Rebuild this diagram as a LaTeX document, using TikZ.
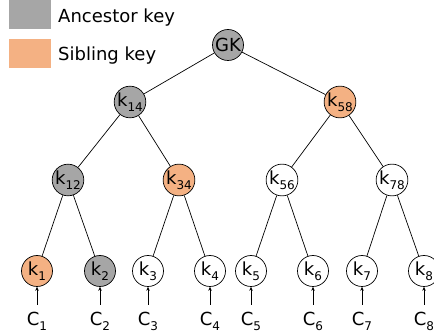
\documentclass[tikz,border=0pt]{standalone}
\usepackage{fontspec}
\setmainfont{DejaVu Sans}
\usetikzlibrary{arrows.meta}
\definecolor{ancgray}{HTML}{A6A6A6}
\definecolor{sibor}{HTML}{F4B183}
\newcommand{\ksub}[2]{#1\raisebox{-0.27em}{\fontsize{12}{12}\selectfont #2}}
\tikzset{
  key/.style={circle, draw, line width=0.7pt, minimum size=31pt, inner sep=0pt, font=\fontsize{18}{20}\selectfont},
  anc/.style={key, fill=ancgray},
  sib/.style={key, fill=sibor},
  plainkey/.style={key, fill=white},
  edge/.style={line width=0.7pt},
  lbl/.style={font=\fontsize{18}{20}\selectfont, inner sep=0pt},
  inp/.style={line width=0.6pt, -{Stealth[length=4pt,width=3.5pt]}},
  legbox/.style={draw=none, inner sep=0pt, minimum width=42pt, minimum height=29pt, anchor=north west}
}
\begin{document}
\begin{tikzpicture}[x=1pt, y=-1pt]
\useasboundingbox (0,0) rectangle (434,336);
\clip (0,0) rectangle (434,336);
% legend
\node[legbox, fill=ancgray] (la) at (9,0) {};
\node[legbox, fill=sibor] (ls) at (9,39) {};
\node[lbl, anchor=base west] (lta) at (58,23) {Ancestor key};
\node[lbl, anchor=base west] (lts) at (58,61) {Sibling key};
% tree
\node[anc] (gk) at (228,45) {GK};
\node[anc] (k14) at (130,102) {\ksub{k}{14}};
\node[sib] (k58) at (340,102) {\ksub{k}{58}};
\node[anc] (k12) at (68,180) {\ksub{k}{12}};
\node[sib] (k34) at (179,180) {\ksub{k}{34}};
\node[plainkey] (k56) at (282,180) {\ksub{k}{56}};
\node[plainkey] (k78) at (392,180) {\ksub{k}{78}};
\node[sib] (k1) at (37,271) {\ksub{k}{1}};
\node[anc] (k2) at (100,271) {\ksub{k}{2}};
\node[plainkey] (k3) at (148,271) {\ksub{k}{3}};
\node[plainkey] (k4) at (210,271) {\ksub{k}{4}};
\node[plainkey] (k5) at (251,271) {\ksub{k}{5}};
\node[plainkey] (k6) at (313,271) {\ksub{k}{6}};
\node[plainkey] (k7) at (362,271) {\ksub{k}{7}};
\node[plainkey] (k8) at (424,271) {\ksub{k}{8}};
\draw[edge] (gk) -- (k14);
\draw[edge] (gk) -- (k58);
\draw[edge] (k14) -- (k12);
\draw[edge] (k14) -- (k34);
\draw[edge] (k58) -- (k56);
\draw[edge] (k58) -- (k78);
\draw[edge] (k12) -- (k1);
\draw[edge] (k12) -- (k2);
\draw[edge] (k34) -- (k3);
\draw[edge] (k34) -- (k4);
\draw[edge] (k56) -- (k5);
\draw[edge] (k56) -- (k6);
\draw[edge] (k78) -- (k7);
\draw[edge] (k78) -- (k8);
% inputs
\foreach \i/\x in {1/37,2/100,3/148,4/210,5/251,6/313,7/362,8/424}{
  \node[lbl, anchor=base] (c\i) at (\x,326) {\ksub{C}{\i}};
  \coordinate (a\i) at (\x,305);
  \draw[inp] (a\i) -- (k\i);
}
\end{tikzpicture}
\end{document}
